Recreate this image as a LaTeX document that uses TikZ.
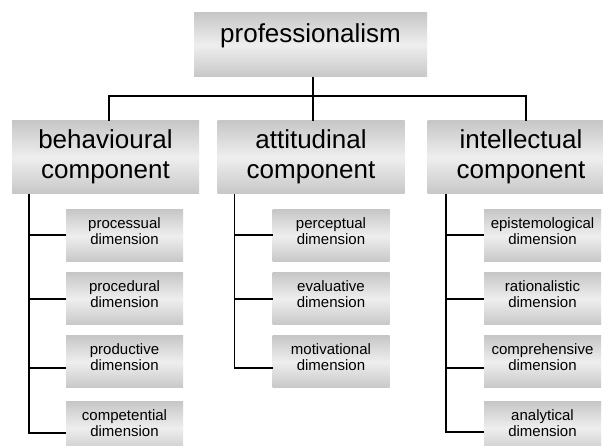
\documentclass[tikz,border=0pt]{standalone}
\usepackage{fontspec}
\setmainfont{Liberation Sans}
\usetikzlibrary{calc}
\definecolor{boxedge}{gray}{0.78}
\definecolor{boxmid}{gray}{0.935}
\tikzset{
  gbox/.style={inner sep=0pt, outer sep=0pt, draw=none, top color=boxedge, bottom color=boxedge, middle color=boxmid},
  topbox/.style={gbox, minimum width=233pt, minimum height=64pt},
  compbox/.style={gbox, minimum width=187pt, minimum height=73pt},
  dimbox/.style={gbox, minimum width=117pt, minimum height=52pt},
  bigtxt/.style={inner sep=0pt, align=center, font=\fontsize{26}{30}\selectfont},
  smalltxt/.style={inner sep=0pt, align=center, font=\fontsize{15}{16}\selectfont},
  conn/.style={line width=1.6pt, line join=miter}
}
\begin{document}
\begin{tikzpicture}[x=1pt,y=-1pt]
\useasboundingbox (0,0) rectangle (603,446);
\fill[white] (0,0) rectangle (603,446);
\clip (0,0) rectangle (603,446);

% boxes
\node[topbox] (top) at (310.5,45) {};
\node[compbox] (beh) at (105.5,157.5) {};
\node[compbox] (att) at (311,157.5) {};
\node[compbox] (int) at (521,157.5) {};

\node[dimbox] (bd1) at (124.5,236) {};
\node[dimbox] (bd2) at (124.5,299) {};
\node[dimbox] (bd3) at (124.5,362) {};
\node[dimbox] (bd4) at (124.5,428) {};
\node[dimbox] (ad1) at (331,236) {};
\node[dimbox] (ad2) at (331,299) {};
\node[dimbox] (ad3) at (331,362) {};
\node[dimbox] (id1) at (542.5,236) {};
\node[dimbox] (id2) at (542.5,299) {};
\node[dimbox] (id3) at (542.5,362) {};
\node[dimbox] (id4) at (542.5,428) {};

% texts
\node[bigtxt, anchor=base] (topt) at (310.5,43) {professionalism};
\node[bigtxt, anchor=base] (beht) at (105.5,179) {behavioural\\component};
\node[bigtxt, anchor=base] (attt) at (311,179) {attitudinal\\component};
\node[bigtxt, anchor=base] (intt) at (521,179) {intellectual\\component};

\node[smalltxt, anchor=base] (bd1t) at (124.5,245) {processual\\dimension};
\node[smalltxt, anchor=base] (bd2t) at (124.5,308) {procedural\\dimension};
\node[smalltxt, anchor=base] (bd3t) at (124.5,371) {productive\\dimension};
\node[smalltxt, anchor=base] (bd4t) at (124.5,437) {competential\\dimension};
\node[smalltxt, anchor=base] (ad1t) at (331,245) {perceptual\\dimension};
\node[smalltxt, anchor=base] (ad2t) at (331,308) {evaluative\\dimension};
\node[smalltxt, anchor=base] (ad3t) at (331,371) {motivational\\dimension};
\node[smalltxt, anchor=base] (id1t) at (542.5,245) {epistemological\\dimension};
\node[smalltxt, anchor=base] (id2t) at (542.5,308) {rationalistic\\dimension};
\node[smalltxt, anchor=base] (id3t) at (542.5,371) {comprehensive\\dimension};
\node[smalltxt, anchor=base] (id4t) at (542.5,437) {analytical\\dimension};

% top connectors
\coordinate (hub) at (0,96);
\coordinate (tj) at ($(top.south)+(2.2,0)$);
\coordinate (bj) at ($(beh.north)+(3.5,0)$);
\coordinate (aj) at ($(att.north)+(2,0)$);
\coordinate (ij) at ($(int.north)+(5,0)$);
\draw[conn] (bj) |- (hub -| ij) -- (ij);
\draw[conn] (aj) -- (aj |- hub);
\draw[conn] (tj) -- (tj |- hub);

% sub connectors
\coordinate (bl) at ($(beh.south west)+(17,0)$);
\coordinate (al) at ($(att.south west)+(17,0)$);
\coordinate (il) at ($(int.south west)+(18.5,0)$);

\draw[conn] (bl) |- ($(bd4.west)+(0,5)$);
\draw[conn] ($(bd1.west)+(0,-1)$) -- ($(bd1.west -| bl)+(0,-1)$);
\draw[conn] (bd2.west) -- (bd2.west -| bl);
\draw[conn] ($(bd3.west)+(0,6)$) -- ($(bd3.west -| bl)+(0,6)$);

\draw[conn] (al) |- ($(ad3.west)+(0,6)$);
\draw[conn] ($(ad1.west)+(0,-1)$) -- ($(ad1.west -| al)+(0,-1)$);
\draw[conn] (ad2.west) -- (ad2.west -| al);

\draw[conn] (il) |- ($(id4.west)+(0,4)$);
\draw[conn] ($(id1.west)+(0,-1)$) -- ($(id1.west -| il)+(0,-1)$);
\draw[conn] (id2.west) -- (id2.west -| il);
\draw[conn] ($(id3.west)+(0,6)$) -- ($(id3.west -| il)+(0,6)$);
\end{tikzpicture}
\end{document}
